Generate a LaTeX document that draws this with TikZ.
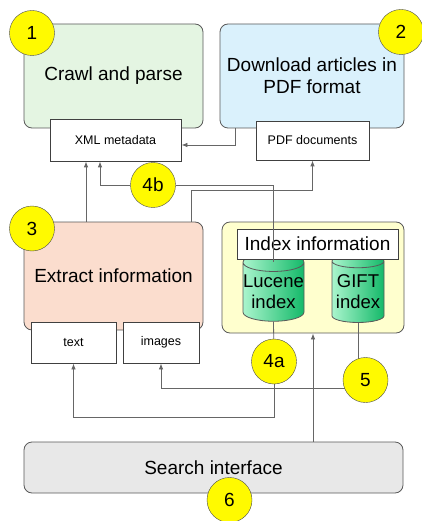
\documentclass[tikz,border=0pt]{standalone}
\usepackage{fontspec}
\setmainfont{Liberation Sans}
\usepackage{tikz}
\usetikzlibrary{shapes.geometric,arrows.meta}

\definecolor{crawlgreen}{RGB}{228,245,226}
\definecolor{pdfblue}{RGB}{218,241,252}
\definecolor{extractpeach}{RGB}{251,221,206}
\definecolor{indexyellow}{RGB}{255,255,206}
\definecolor{searchgray}{RGB}{232,232,232}
\definecolor{numyellow}{RGB}{255,250,0}
\definecolor{cyllight}{RGB}{170,245,205}
\definecolor{cyldark}{RGB}{20,185,105}

\pgfdeclarelayer{lines}
\pgfdeclarelayer{marks}
\pgfsetlayers{main,lines,marks}

\tikzset{
	stage/.style={draw=black!65, rounded corners=8pt, line width=0.8pt, align=center,
		inner sep=0pt, font=\fontsize{19}{22}\selectfont},
	outbox/.style={draw=black!75, fill=white, line width=0.8pt, inner sep=0pt,
		font=\fontsize{12.5}{14}\selectfont},
	dbcyl/.style={cylinder, shape border rotate=90, aspect=0.3, draw=black!65, line width=0.8pt,
		left color=cyllight, right color=cyldark, align=center, inner sep=0pt,
		font=\fontsize{18.5}{21}\selectfont},
	num/.style={circle, draw=black!70, fill=numyellow, minimum size=45pt, inner sep=0pt,
		font=\fontsize{19}{22}\selectfont},
	link/.style={draw=black!60, line width=0.8pt},
	tip/.style={-{Latex[length=6pt,width=4.5pt]}}
}

\begin{document}
\begin{tikzpicture}[x=1pt,y=-1pt]
	\useasboundingbox (0,0) rectangle (422,521);
	
	% stages
	\node[stage, fill=crawlgreen, minimum width=179, minimum height=104] (crawl) at (113.5,76) {Crawl and parse};
	\node[stage, fill=pdfblue, minimum width=184, minimum height=104] (download) at (312,76) {Download articles in\\PDF format};
	\node[stage, fill=extractpeach, minimum width=179, minimum height=108] (extract) at (113.5,276) {Extract information};
	\node[stage, fill=indexyellow, minimum width=182, minimum height=111] (indexinfo) at (313,277.5) {};
	\node[stage, fill=searchgray, minimum width=379, minimum height=51] (search) at (213.5,467.5) {Search interface};
	
	% indexes
	\node[dbcyl, minimum width=61, minimum height=68] (lucene) at (273.5,292) {Lucene\\index};
	\node[dbcyl, minimum width=52, minimum height=68] (gift) at (358,292) {GIFT\\index};
	\node[outbox, minimum width=161, minimum height=30, font=\fontsize{19}{22}\selectfont] (indextitle) at (317.5,244) {Index information};
	
	% outputs
	\node[outbox, minimum width=131, minimum height=42] (xml) at (115.5,140) {XML metadata};
	\node[outbox, minimum width=113, minimum height=39] (pdf) at (312.5,140.5) {PDF documents};
	\node[outbox, minimum width=85, minimum height=41] (txt) at (73.5,342.5) {text};
	\node[outbox, minimum width=76, minimum height=41] (images) at (161,342.5) {images};
	
	% step numbers
	\begin{pgfonlayer}{marks}
		\node[num] (n1) at (32,33) {1};
		\node[num] (n2) at (401,32) {2};
		\node[num] (n3) at (32,228.5) {3};
		\node[num] (n4b) at (153,185) {4b};
		\node[num] (n4a) at (274,361.5) {4a};
		\node[num] (n5) at (365.5,380) {5};
		\node[num] (n6) at (229.5,500) {6};
	\end{pgfonlayer}
	
	% connectors
	\begin{pgfonlayer}{lines}
		\draw[link,tip] ([xshift=16]download.south west) |- ([yshift=-5]xml.east);
		\draw[link,tip] ([xshift=-27.5]extract.north) -- ([xshift=-27.5]extract.north |- xml.south);
		\draw[link,tip] (n4b) -| ([xshift=-15.5]xml.south);
		\draw[link] (n4b) -| ([yshift=-9]lucene.north);
		\draw[link,tip] ([xshift=77.5]extract.north) -- ++(0,-31) -| (pdf.south);
		\draw[link] (lucene.south) -- (n4a);
		\draw[link,tip] (n4a) -- ++(0,56) -| (txt.south);
		\draw[link] (gift.south) -- (gift.south |- n5);
		\draw[link,tip] ([yshift=-8]n5.center) -| (images.south);
		\draw[link,tip] (search.north -| indexinfo.south) -- (indexinfo.south);
	\end{pgfonlayer}
\end{tikzpicture}
\end{document}
